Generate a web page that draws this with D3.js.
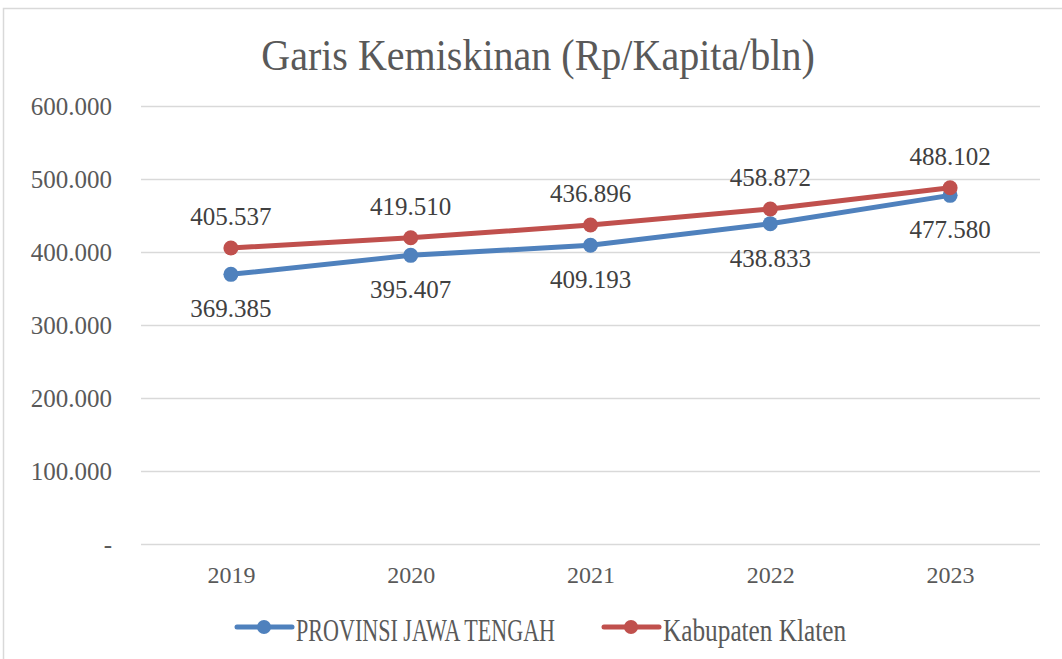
<!DOCTYPE html>
<html>
<head>
<meta charset="utf-8">
<script src="https://cdn.jsdelivr.net/npm/d3@7"></script>
<style>
  body { margin: 0; background: #fff; }
  text { font-family: "Liberation Serif", serif; fill: #595959; }
</style>
</head>
<body>
<div id="chart"></div>
<script>
// data
const years = ["2019", "2020", "2021", "2022", "2023"]
const jateng = [369385, 395407, 409193, 438833, 477580]
const klaten = [405537, 419510, 436896, 458872, 488102]
const yTicks = [0, 100000, 200000, 300000, 400000, 500000, 600000]
const seriesNames = ["PROVINSI JAWA TENGAH", "Kabupaten Klaten"]
const colors = ["#4f81bd", "#c0504d"]

const W = 1062, H = 659
const margin = {top: 106, right: 22, bottom: 115, left: 141}
const width = W - margin.left - margin.right,
      height = H - margin.top - margin.bottom

const svg = d3.select("#chart").append("svg")
  .attr("width", W).attr("height", H)

// bord de la zone du graphique
svg.append("rect")
  .attr("x", 3.5).attr("y", 8.5)
  .attr("width", W + 10).attr("height", H + 10)
  .attr("fill", "none").attr("stroke", "#d9d9d9").attr("stroke-width", 1.5)

// titre (police un peu condensee comme Cambria)
svg.append("text")
  .attr("transform", "translate(538,70) scale(0.91,1)")
  .attr("text-anchor", "middle")
  .style("font-size", "44px")
  .text("Garis Kemiskinan (Rp/Kapita/bln)")

const g = svg.append("g")
  .attr("transform", "translate(" + margin.left + "," + margin.top + ")")

const x = d3.scalePoint().domain(years).range([0, width]).padding(0.5)
const y = d3.scaleLinear().domain([0, 600000]).range([height, 0])

const fmt = v => v === 0 ? "-" : d3.format(",")(v).replace(/,/g, ".")

// grille + etiquettes Y
const yAxis = g.append("g")
  .call(d3.axisLeft(y).tickValues(yTicks).tickSize(-width).tickFormat(fmt).tickPadding(29))
yAxis.select(".domain").remove()
yAxis.selectAll("line").attr("stroke", "#d9d9d9").attr("stroke-width", 1.5)
yAxis.selectAll("text").style("font-size", "25px").attr("fill", "#595959")
  .attr("font-family", null)

// etiquettes X
const xAxis = g.append("g")
  .attr("transform", "translate(0," + height + ")")
  .call(d3.axisBottom(x).tickSize(0).tickPadding(22))
xAxis.select(".domain").remove()
xAxis.selectAll("text").style("font-size", "24px").attr("fill", "#595959")
  .attr("font-family", null)

const series = [jateng, klaten]
const line = d3.line().x((d, i) => x(years[i])).y(d => y(d))

series.forEach((s, k) => {
  g.append("path").datum(s)
    .attr("d", line)
    .attr("fill", "none").attr("stroke", colors[k])
    .attr("stroke-width", 5).attr("stroke-linecap", "round")
  g.selectAll(".pt" + k).data(s).enter().append("circle")
    .attr("cx", (d, i) => x(years[i])).attr("cy", d => y(d))
    .attr("r", 7.5).attr("fill", colors[k])
  g.selectAll(".lb" + k).data(s).enter().append("text")
    .attr("x", (d, i) => x(years[i]))
    .attr("y", d => y(d) + (k === 0 ? 43 : -23))
    .attr("text-anchor", "middle")
    .style("font-size", "25px").style("fill", "#404040")
    .text(fmt)
})

// legende
const legX = [237, 604]
const squash = [0.69, 0.79]
seriesNames.forEach((n, k) => {
  const lg = svg.append("g").attr("transform", "translate(" + legX[k] + ",627)")
  lg.append("line").attr("x1", 0).attr("x2", 55)
    .attr("stroke", colors[k]).attr("stroke-width", 5).attr("stroke-linecap", "round")
  lg.append("circle").attr("cx", 27).attr("r", 7).attr("fill", colors[k])
  lg.append("text")
    .attr("transform", "translate(59,14) scale(" + squash[k] + ",1)")
    .style("font-size", "32px").text(n)
})
</script>
</body>
</html>
